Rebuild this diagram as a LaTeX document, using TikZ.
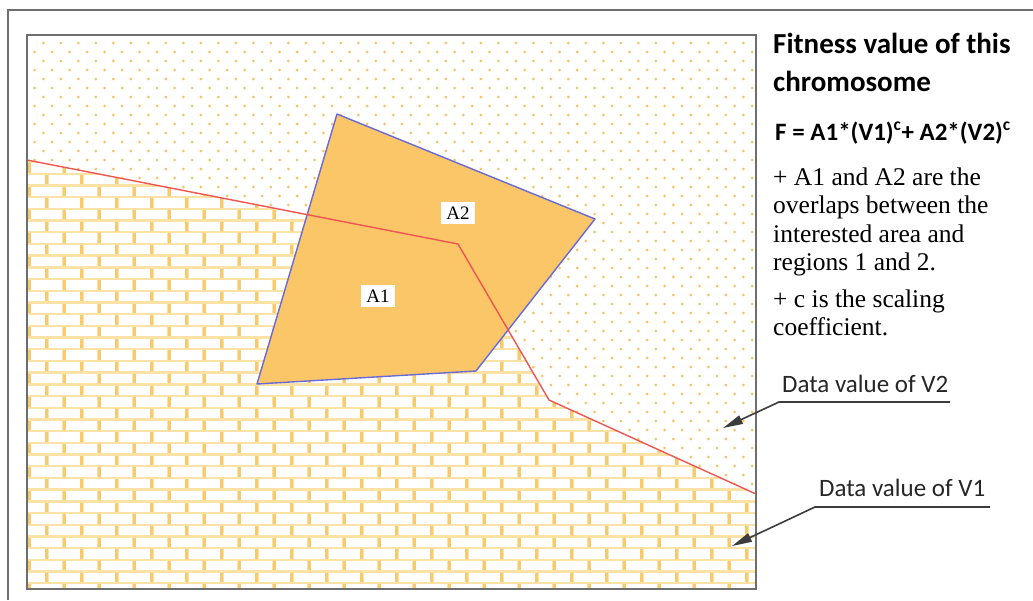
\documentclass[tikz,border=0pt]{standalone}
\usepackage{fontspec}
\setmainfont{Liberation Serif}
\newfontfamily\calibri{Carlito}
\usetikzlibrary{arrows.meta}
\definecolor{mortar}{RGB}{252,226,165}
\definecolor{mortardark}{RGB}{248,202,112}
\definecolor{dotc}{RGB}{246,194,100}
\definecolor{polyfill}{RGB}{251,198,104}
\definecolor{polyline}{RGB}{105,105,215}
\definecolor{redline}{RGB}{240,85,80}
\definecolor{framec}{RGB}{110,110,110}
\definecolor{leaderc}{RGB}{60,60,60}
\tikzset{
  lab/.style={fill=white, font=\fontsize{19}{22}\selectfont, inner xsep=5pt, inner ysep=5pt},
  titletext/.style={anchor=base west, inner sep=0pt, font=\calibri\bfseries\fontsize{29}{34}\selectfont},
  formula/.style={anchor=base west, inner sep=0pt, font=\calibri\bfseries\fontsize{25}{29}\selectfont},
  bodytext/.style={anchor=base west, inner sep=0pt, font=\fontsize{25.5}{29}\selectfont},
  datalabel/.style={anchor=base west, inner sep=0pt, font=\calibri\fontsize{25}{29}\selectfont, text=black!85},
  leader/.style={draw=leaderc, line width=1.6pt, -{Triangle[length=20pt,width=9pt]}},
  frameline/.style={draw=framec, line width=2pt},
}
\begin{document}
\begin{tikzpicture}[x=1pt,y=-1pt]
\useasboundingbox (0,0) rectangle (1033,600);
\fill[white] (0,0) rectangle (1033,600);
\draw[frameline] (8,600) -- (8,10) -- (1033,10);

\coordinate (TL) at (27,35);
\coordinate (TR) at (756,35);
\coordinate (BR) at (756,589);
\coordinate (BL) at (27,589);
\coordinate (r0) at (27,160);
\coordinate (r1) at (458,244);
\coordinate (r2) at (549,400);
\coordinate (r3) at (756,494);

% region 1 : bricks
\begin{scope}
\clip (r0) -- (r1) -- (r2) -- (r3) -- (BR) -- (BL) -- cycle;
\fill[mortar] (TL) rectangle (BR);
\foreach \i [evaluate=\i as \y using {34.5+\i*11.7}, evaluate=\i as \off using {mod(\i,2)*17.5}] in {0,...,48}{
  \foreach \j in {0,...,22}{
    \fill[white] ({13.7-\off+\j*35},\y) rectangle ++(31,9.3);
    \fill[mortardark] ({13.7-\off+\j*35+31.6},\y) rectangle ++(2.8,9.3);
  }
}
\end{scope}

% region 2 : dots
\begin{scope}
\clip (TL) -- (TR) -- (r3) -- (r2) -- (r1) -- (r0) -- cycle;
\foreach \i [evaluate=\i as \y using {43+\i*9}, evaluate=\i as \off using {mod(\i,2)*8.75}] in {-1,...,52}{
  \foreach \j in {-1,...,42}{
    \fill[dotc] ({43.3-\off+\j*17.5},\y) circle (1.5);
  }
}
\end{scope}

% interested area
\coordinate (p1) at (337,114);
\coordinate (p2) at (595,219);
\coordinate (p3) at (476,371);
\coordinate (p4) at (257,384);
\fill[polyfill] (p1) -- (p2) -- (p3) -- (p4) -- cycle;
\draw[polyline, line width=1.4pt, line join=round] (p1) -- (p2) -- (p3) -- (p4) -- cycle;

% boundary
\draw[redline, line width=1.4pt] (r0) -- (r1) -- (r2) -- (r3);

\draw[frameline] (TL) rectangle (BR);

\node[lab] (A1) at (378,296) {A1};
\node[lab] (A2) at (458,213) {A2};

\node[titletext] (t1) at (773,53) {Fitness value of this};
\node[titletext] (t2) at (773,91) {chromosome};
\node[formula] (t3) at (775,140) {F = A1*(V1)\textsuperscript{c}+ A2*(V2)\textsuperscript{c}};
\node[bodytext] (t4) at (773,185) {+ A1 and A2 are the};
\node[bodytext] (t5) at (773,213.5) {overlaps between the};
\node[bodytext] (t6) at (773,242) {interested area and};
\node[bodytext] (t7) at (773,270.5) {regions 1 and 2.};
\node[bodytext] (t8) at (773,307) {+ c is the scaling};
\node[bodytext] (t9) at (773,335.5) {coefficient.};

\node[datalabel] (d2) at (782,392) {Data value of V2};
\node[datalabel] (d1) at (819,496) {Data value of V1};

\coordinate (u2b) at (950,402);
\coordinate (u2a) at (779,402);
\coordinate (v2tip) at (723,428);
\coordinate (u1b) at (990,507);
\coordinate (u1a) at (815,507);
\coordinate (v1tip) at (732,546);
\draw[leader] (u2b) -- (u2a) -- (v2tip);
\draw[leader] (u1b) -- (u1a) -- (v1tip);
\end{tikzpicture}
\end{document}
